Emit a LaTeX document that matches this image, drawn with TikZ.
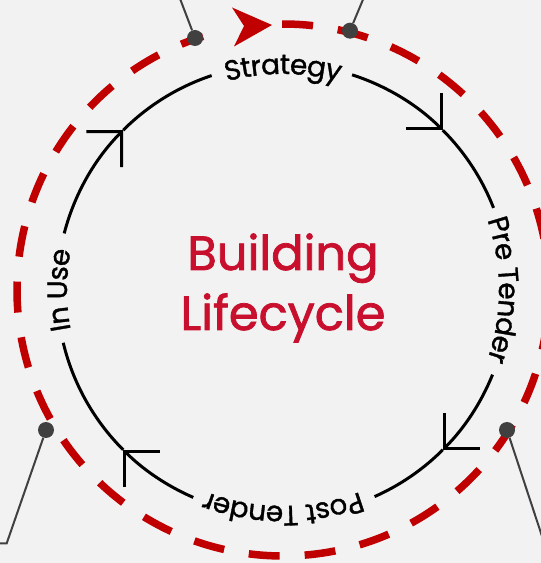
\documentclass[tikz,border=0pt]{standalone}
\usepackage{fontspec}
\setmainfont{Poppins}
\newfontfamily\ringfont[FakeBold=1.2]{Poppins}
\newfontfamily\titlefont[FakeBold=1.6]{Poppins}
\usetikzlibrary{arrows.meta,decorations.text}
\definecolor{bg}{HTML}{F2F2F2}
\definecolor{ringred}{RGB}{192,0,0}
\definecolor{titlered}{RGB}{200,16,46}
\definecolor{dotgray}{HTML}{404040}
\begin{document}
\begin{tikzpicture}[x=1pt,y=1pt,
  ring/.style={line width=3pt, black},
  ringarrow/.style={ring, line join=miter, -{Straight Barb[length=25pt,width=50pt,line width=3pt]}},
  dashring/.style={ringred, line width=7.5pt, dash pattern=on 31pt off 25pt},
  dotnode/.style={circle, fill=dotgray, inner sep=0pt, minimum size=16pt},
  leader/.style={dotgray, line width=2pt},
  ringlabel/.style={decorate, decoration={text along path, text align=center, raise=-10pt}},
  titletext/.style={text=titlered, font=\titlefont\fontsize{48}{48}\selectfont, anchor=base, inner sep=0pt},
]
\useasboundingbox (0,0) rectangle (541,563);
\fill[bg] (0,0) rectangle (541,563);
\clip (0,0) rectangle (541,563);
\begin{scope}[shift={(283,273)}]
  % red dashed ring with its arrowhead
  \draw[dashring] (90.2:266) arc[start angle=90.2, end angle=-252.5, radius=266pt];
  \fill[ringred] (-11,265) -- (-51,282.5) -- (-39,264) -- (-49,243.5) -- cycle;
  % black ring: four arcs with arrowheads
  \draw[ringarrow] (165.5:226) arc[start angle=165.5, end angle=135, radius=226pt];
  \draw[ring] (135:226) arc[start angle=135, end angle=108.4, radius=226pt];
  \draw[ringarrow] (72.2:226) arc[start angle=72.2, end angle=45, radius=226pt];
  \draw[ring] (45:226) arc[start angle=45, end angle=21.3, radius=226pt];
  \draw[ringarrow] (-22:226) arc[start angle=-22, end angle=-45, radius=226pt];
  \draw[ring] (-45:226) arc[start angle=-45, end angle=-66.1, radius=226pt];
  \draw[ringarrow] (-113.4:226) arc[start angle=-113.4, end angle=-135, radius=226pt];
  \draw[ring] (-135:226) arc[start angle=-135, end angle=-166.5, radius=226pt];
  % labels along the ring
  \path[ringlabel, decoration={text={|\ringfont\fontsize{28}{28}\selectfont|Strategy}}]
    (135:226) arc[start angle=135, end angle=45, radius=226pt];
  \path[ringlabel, decoration={text={|\ringfont\fontsize{28}{28}\selectfont|Pre Tender}}]
    (45:226) arc[start angle=45, end angle=-45, radius=226pt];
  \path[ringlabel, decoration={text={|\ringfont\fontsize{28}{28}\selectfont|Post Tender}}]
    (-45:226) arc[start angle=-45, end angle=-135, radius=226pt];
  \path[ringlabel, decoration={text={|\ringfont\fontsize{28}{28}\selectfont|In Use}}]
    (-135:226) arc[start angle=-135, end angle=-225, radius=226pt];
\end{scope}
% title
\node[titletext] (title1) at (283,293) {Building};
\node[titletext] (title2) at (283,233) {Lifecycle};
% leader lines with dots
\coordinate (e1) at (179,567);
\coordinate (e2) at (364.5,567);
\coordinate (e3a) at (6.7,19.7);
\coordinate (e3b) at (-5,19.7);
\coordinate (e4) at (552.5,-5);
\node[dotnode] (d1) at (195,525) {};
\node[dotnode] (d2) at (350,532.3) {};
\node[dotnode] (d3) at (46,133) {};
\node[dotnode] (d4) at (507,133) {};
\draw[leader] (d1) -- (e1);
\draw[leader] (d2) -- (e2);
\draw[leader] (d3) -- (e3a) -- (e3b);
\draw[leader] (d4) -- (e4);
\end{tikzpicture}
\end{document}
